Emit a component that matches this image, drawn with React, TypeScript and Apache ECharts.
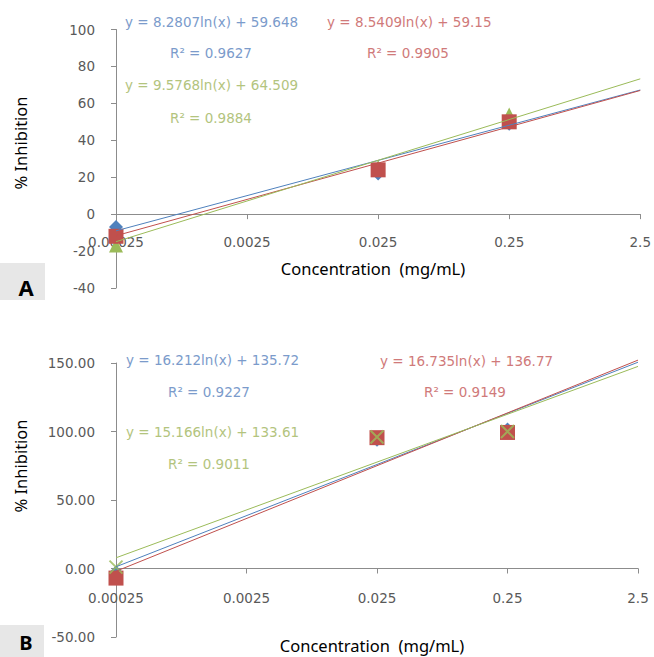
import React, { useEffect, useRef } from "react";
import * as echarts from "echarts";

// X axis tick labels (log-spaced concentrations, mg/mL)
const categories = ["0.00025", "0.0025", "0.025", "0.25", "2.5"];
const pointConcs = ["0.00025", "0.025", "0.25"];
const trendConcs = ["0.00025", "2.5"];

// Panel A (% inhibition)
const aYTicks = { min: -40, max: 100, interval: 20 };
const aBlue = [-7, 22, 49];
const aRed = [-12, 24, 50];
const aGreen = [-17, 25.5, 54];
const aBlueTrend = [-9.03, 67.24];
const aRedTrend = [-11.69, 66.98];
const aGreenTrend = [-14.92, 73.28];
const aBlueEq = ["y = 8.2807ln(x) + 59.648", "R² = 0.9627"];
const aRedEq = ["y = 8.5409ln(x) + 59.15", "R² = 0.9905"];
const aGreenEq = ["y = 9.5768ln(x) + 64.509", "R² = 0.9884"];

// Panel B (% inhibition)
const bYTicks = { min: -50, max: 150, interval: 50 };
const bBlue = [-3, 94, 101.5];
const bRed = [-7, 95.5, 99.3];
const bGreen = [1, 96, 100];
const bBlueTrend = [1.26, 150.58];
const bRedTrend = [-2.03, 152.1];
const bGreenTrend = [7.82, 147.51];
const bBlueEq = ["y = 16.212ln(x) + 135.72", "R² = 0.9227"];
const bRedEq = ["y = 16.735ln(x) + 136.77", "R² = 0.9149"];
const bGreenEq = ["y = 15.166ln(x) + 133.61", "R² = 0.9011"];

const BLUE = "#4F81BD";
const RED = "#C0504D";
const GREEN = "#9BBB59";
const BLUE_T = "#7b9bcb";
const RED_T = "#d07a7a";
const GREEN_T = "#b3c47e";
const AXIS = "#8c8c8c";
const LABEL = "#595959";
const TICK_FONT = "DejaVu Sans";
const TITLE_FONT = "Noto Sans";

const X_PATH = "path://M0,0L10,10M10,0L0,10";

const GRID_A = { left: 116, top: 29.5, width: 526, height: 258.5 };
const GRID_B = { left: 116, top: 363, width: 522, height: 274 };

function pts(vals: number[]) {
  return pointConcs.map((c, i) => [c, vals[i]]);
}
function trend(vals: number[]) {
  return trendConcs.map((c, i) => [c, vals[i]]);
}

export default function App() {
  const ref = useRef<HTMLDivElement>(null);
  useEffect(() => {
    if (!ref.current) return;
    const chart = echarts.init(ref.current, null, { renderer: "svg" });

    // x axis crosses the y axis at 0: shift the bottom axis up to the zero line
    const zeroOffset = (g: any, t: any) => -(g.height * (0 - t.min)) / (t.max - t.min);

    const xAxisBase = (gridIndex: number, margin: number, offset: number) => ({
      type: "category",
      gridIndex,
      data: categories,
      boundaryGap: false,
      position: "bottom",
      offset,
      axisLine: { onZero: false, lineStyle: { color: AXIS, width: 1 } },
      axisTick: { show: true, length: 5, lineStyle: { color: AXIS } },
      axisLabel: {
        color: LABEL,
        fontFamily: TICK_FONT,
        fontSize: 13.5,
        margin,
        showMinLabel: true,
        showMaxLabel: true,
        interval: 0,
      },
      splitLine: { show: false },
    });

    const yAxisBase = (gridIndex: number, t: any, dec: number) => ({
      type: "value",
      gridIndex,
      min: t.min,
      max: t.max,
      interval: t.interval,
      axisLine: { show: true, onZero: false, lineStyle: { color: AXIS, width: 1 } },
      axisTick: { show: true, length: 5, lineStyle: { color: AXIS } },
      axisLabel: {
        color: LABEL,
        fontFamily: TICK_FONT,
        fontSize: 13.5,
        margin: 21,
        formatter: (v: number) => v.toFixed(dec),
      },
      splitLine: { show: false },
    });

    const scatter = (xi: number, data: any, color: string, symbol: string, size: number, z: number, cross = false) => ({
      type: "scatter",
      xAxisIndex: xi,
      yAxisIndex: xi,
      data,
      symbol,
      symbolSize: size,
      z,
      itemStyle: cross
        ? { color: "rgba(0,0,0,0)", borderColor: color, borderWidth: 2 }
        : { color, opacity: 1 },
      emphasis: { disabled: true },
    });

    const line = (xi: number, data: any, color: string) => ({
      type: "line",
      xAxisIndex: xi,
      yAxisIndex: xi,
      data,
      symbol: "none",
      clip: false,
      z: 10,
      lineStyle: { color, width: 1 },
      emphasis: { disabled: true },
    });

    const eqText = (x: number, y: number, text: string, color: string) => ({
      type: "text",
      x,
      y,
      style: {
        text,
        fill: color,
        fontFamily: TICK_FONT,
        fontSize: 13.5,
        verticalAlign: "middle",
        align: "left",
      },
      z: 20,
    });

    const option: any = {
      animation: false,
      backgroundColor: "#ffffff",
      grid: [
        { ...GRID_A, containLabel: false },
        { ...GRID_B, containLabel: false },
      ],
      xAxis: [
        xAxisBase(0, 21, zeroOffset(GRID_A, aYTicks)),
        xAxisBase(1, 22, zeroOffset(GRID_B, bYTicks)),
      ],
      yAxis: [yAxisBase(0, aYTicks, 0), yAxisBase(1, bYTicks, 2)],
      series: [
        scatter(0, pts(aBlue), BLUE, "diamond", 14, 2),
        scatter(0, pts(aGreen), GREEN, "triangle", 14, 3),
        scatter(0, pts(aRed), RED, "rect", 15, 4),
        line(0, trend(aBlueTrend), BLUE),
        line(0, trend(aRedTrend), RED),
        line(0, trend(aGreenTrend), GREEN),
        scatter(1, pts(bBlue), BLUE, "diamond", 14, 2),
        scatter(1, pts(bRed), RED, "rect", 15, 3),
        scatter(1, pts(bGreen), GREEN, X_PATH, 13, 4, true),
        line(1, trend(bBlueTrend), BLUE),
        line(1, trend(bRedTrend), RED),
        line(1, trend(bGreenTrend), GREEN),
      ],
      graphic: [
        eqText(125, 22, aBlueEq[0], BLUE_T),
        eqText(170, 53, aBlueEq[1], BLUE_T),
        eqText(125, 85, aGreenEq[0], GREEN_T),
        eqText(170, 118, aGreenEq[1], GREEN_T),
        eqText(327, 22, aRedEq[0], RED_T),
        eqText(367, 53, aRedEq[1], RED_T),
        eqText(126, 360, bBlueEq[0], BLUE_T),
        eqText(168, 392, bBlueEq[1], BLUE_T),
        eqText(126, 432, bGreenEq[0], GREEN_T),
        eqText(168, 464, bGreenEq[1], GREEN_T),
        eqText(380, 361, bRedEq[0], RED_T),
        eqText(424, 392, bRedEq[1], RED_T),
        {
          type: "text",
          x: 20,
          y: 143,
          rotation: Math.PI / 2,
          style: { text: "% Inhibition", fill: "#000", fontFamily: TITLE_FONT, fontSize: 16.5, align: "center", verticalAlign: "middle" },
        },
        {
          type: "text",
          x: 20,
          y: 466,
          rotation: Math.PI / 2,
          style: { text: "% Inhibition", fill: "#000", fontFamily: TITLE_FONT, fontSize: 16.5, align: "center", verticalAlign: "middle" },
        },
        {
          type: "text",
          x: 373,
          y: 268,
          style: { text: "Concentration  (mg/mL)", fill: "#000", fontFamily: TITLE_FONT, fontSize: 16.5, align: "center", verticalAlign: "middle" },
        },
        {
          type: "text",
          x: 372,
          y: 645,
          style: { text: "Concentration  (mg/mL)", fill: "#000", fontFamily: TITLE_FONT, fontSize: 16.5, align: "center", verticalAlign: "middle" },
        },
        { type: "rect", shape: { x: 0, y: 263, width: 45, height: 37 }, style: { fill: "#e7e7e7" } },
        {
          type: "text",
          x: 26,
          y: 287,
          style: { text: "A", fill: "#000", fontFamily: TITLE_FONT, fontWeight: "bold", fontSize: 22, align: "center", verticalAlign: "middle" },
        },
        { type: "rect", shape: { x: 0, y: 625, width: 44, height: 32 }, style: { fill: "#e7e7e7" } },
        {
          type: "text",
          x: 26,
          y: 642,
          style: { text: "B", fill: "#000", fontFamily: TITLE_FONT, fontWeight: "bold", fontSize: 20, align: "center", verticalAlign: "middle" },
        },
      ],
    };

    chart.setOption(option);
    return () => chart.dispose();
  }, []);

  return (
    <div
      ref={ref}
      style={{ position: "fixed", left: 0, top: 0, width: 654, height: 657, background: "#fff" }}
    />
  );
}
